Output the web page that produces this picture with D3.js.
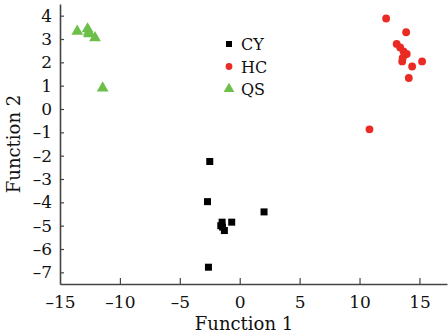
<!DOCTYPE html>
<html>
<head>
<meta charset="utf-8">
<script src="https://cdn.jsdelivr.net/npm/d3@7"></script>
<style>
  body { margin: 0; background: #fff; }
  text { font-family: "DejaVu Serif", serif; fill: #111; }
</style>
</head>
<body>
<div id="chart"></div>
<script>
// scores
const groups = ["CY", "HC", "QS"];
const cyX = [-2.5, -2.69, 2.03, -0.67, -1.47, -1.58, -1.28, -1.44, -2.61];
const cyY = [-2.25, -3.97, -4.41, -4.85, -4.85, -5.0, -5.21, -5.06, -6.78];
const hcX = [12.22, 13.89, 13.1, 13.39, 13.67, 13.94, 13.56, 15.22, 14.39, 14.11, 10.83, 13.78, 13.6];
const hcY = [3.88, 3.29, 2.79, 2.64, 2.47, 2.36, 2.04, 2.04, 1.82, 1.33, -0.87, 2.33, 2.19];
const qsX = [-13.56, -12.7, -12.58, -12.6, -12.08, -11.44];
const qsY = [3.33, 3.43, 3.22, 3.3, 3.05, 0.9];
const xTicks = [-15, -10, -5, 0, 5, 10, 15];
const yTicks = [4, 3, 2, 1, 0, -1, -2, -3, -4, -5, -6, -7];

const W = 448, H = 334;
const margin = { top: 4, right: 1, bottom: 50, left: 60 };

const svg = d3.select("#chart").append("svg")
  .attr("width", W)
  .attr("height", H);

const x = d3.scaleLinear().domain([-15, 17.3]).range([margin.left, W - margin.right]);
const y = d3.scaleLinear().domain([-7.5, 4.5]).range([H - margin.bottom, margin.top]);

const fmt = d => d < 0 ? "\u2013" + Math.abs(d) : String(d);

const xAxis = svg.append("g")
  .attr("transform", "translate(0," + (H - margin.bottom) + ")")
  .call(d3.axisBottom(x).tickValues(xTicks).tickSizeInner(-6).tickSizeOuter(0).tickPadding(12).tickFormat(fmt));

const yAxis = svg.append("g")
  .attr("transform", "translate(" + margin.left + ",0)")
  .call(d3.axisLeft(y).tickValues(yTicks).tickSizeInner(-4).tickSizeOuter(0).tickPadding(8).tickFormat(fmt));

[xAxis, yAxis].forEach(a => {
  a.select(".domain").attr("stroke", "#444").attr("stroke-width", 1.6);
  a.selectAll(".tick line").attr("stroke", "#444").attr("stroke-width", 1.2);
  a.selectAll(".tick text").style("font-size", "17px").attr("fill", "#111");
});
xAxis.selectAll(".tick").filter(d => d === -15).select("line").remove();

svg.append("text")
  .attr("x", 244).attr("y", 330)
  .attr("text-anchor", "middle")
  .style("font-size", "18px")
  .text("Function 1");

svg.append("text")
  .attr("transform", "translate(20," + ((margin.top + H - margin.bottom) / 2) + ") rotate(-90)")
  .attr("text-anchor", "middle")
  .style("font-size", "18px")
  .text("Function 2");

const colors = { CY: "#000000", HC: "#ea2b24", QS: "#6cc04a" };
const shapes = { CY: d3.symbolSquare, HC: d3.symbolCircle, QS: d3.symbolTriangle };
const sizes = { CY: 49, HC: 48, QS: 60 };

const series = [
  { key: "QS", xs: qsX, ys: qsY },
  { key: "HC", xs: hcX, ys: hcY },
  { key: "CY", xs: cyX, ys: cyY }
];

series.forEach(s => {
  const pts = s.xs.map((v, i) => ({ x: v, y: s.ys[i] }));
  svg.append("g").selectAll("path")
    .data(pts)
    .enter().append("path")
    .attr("d", d3.symbol().type(shapes[s.key]).size(sizes[s.key]))
    .attr("transform", d => `translate(${x(d.x)},${y(d.y)})`)
    .attr("fill", colors[s.key]);
});

// legend
const legend = svg.append("g").attr("transform", "translate(229,44)");
groups.forEach((g, i) => {
  const row = legend.append("g").attr("transform", `translate(0,${i * 22.5})`);
  row.append("path")
    .attr("d", d3.symbol().type(shapes[g]).size(g === "QS" ? 50 : 36))
    .attr("fill", colors[g]);
  row.append("text")
    .attr("x", 12).attr("y", 6)
    .style("font-size", "16px")
    .text(g);
});
</script>
</body>
</html>
